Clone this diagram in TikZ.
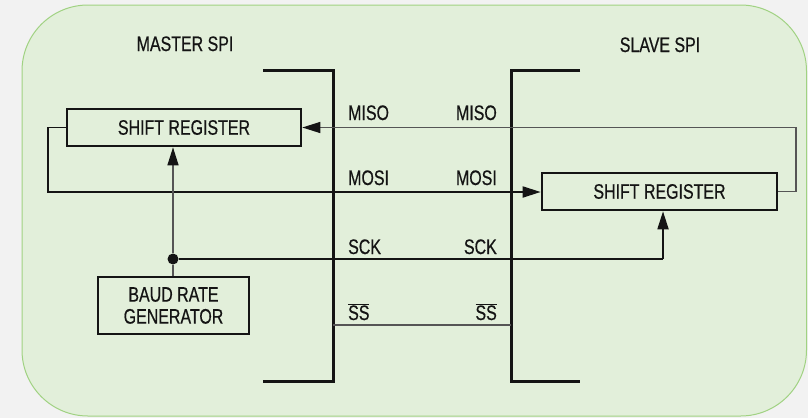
\documentclass[tikz,border=0pt]{standalone}
\usepackage{fontspec}
\setmainfont{Liberation Sans}[FakeStretch=0.76,FakeBold=0.5]
\usetikzlibrary{arrows.meta}
\definecolor{outbg}{RGB}{242,242,242}
\definecolor{panel}{RGB}{226,239,218}
\definecolor{panelborder}{RGB}{160,210,130}
\definecolor{ink}{RGB}{20,20,20}
\definecolor{wire}{RGB}{85,85,85}
\tikzset{
  blk/.style={draw=ink, line width=2.6pt, minimum width=#1, inner sep=0pt, align=center, text=ink},
  lbl/.style={text=ink, inner sep=0pt},
  bracket/.style={draw=ink, line width=3pt},
  thinwire/.style={draw=wire, line width=1.3pt},
  darkwire/.style={draw=ink, line width=1.8pt},
  tip/.style={-{Triangle[length=18pt,width=11pt,color=ink]}},
}
\begin{document}
\begin{tikzpicture}[x=1pt,y=-1pt,font=\fontsize{21}{22}\selectfont]
\useasboundingbox (0,0) rectangle (808,418);
\fill[outbg] (0,0) rectangle (808,418);
\draw[fill=panel, draw=panelborder, line width=1pt, rounded corners=66pt] (22,5) rectangle (806.5,416);

% titles
\node[lbl, anchor=base] (mtitle) at (185,51) {MASTER SPI};
\node[lbl, anchor=base] (stitle) at (660,52) {SLAVE SPI};

% blocks
\node[blk=234pt, minimum height=37pt] (msr) at (184,127.5) {SHIFT REGISTER};
\node[blk=235pt, minimum height=37pt] (ssr) at (659.5,191.5) {SHIFT REGISTER};
\node[blk=151pt, minimum height=57pt] (baud) at (173.5,305.5) {BAUD RATE\\GENERATOR};

% brackets
\coordinate (mtop) at (263,70);
\coordinate (mcorner) at (333,381);
\coordinate (mbot) at (263,381);
\coordinate (stop) at (580,70);
\coordinate (scorner) at (511,381);
\coordinate (sbot) at (580,381);
\draw[bracket] (mtop) -| (mcorner) -- (mbot);
\draw[bracket] (stop) -| (scorner) -- (sbot);

% MISO
\coordinate (misoR) at (796,127.5);
\draw[thinwire, tip] (ssr.east) -| (misoR) -- (msr.east);

% MOSI
\coordinate (mosiL) at (48,192);
\draw[darkwire, tip] (msr.west) -| (mosiL) -- (mosiL -| ssr.west);

% SCK
\node[circle, fill=ink, inner sep=0pt, minimum size=11pt] (dot) at (173,259) {};
\coordinate (sckR) at (663,259);
\draw[darkwire] (dot) -- (sckR);
\draw[darkwire, tip] (sckR) -- (sckR |- ssr.south);
\draw[thinwire, tip] (dot) -- (dot |- msr.south);
\draw[thinwire] (dot) -- (dot |- baud.north);

% SS
\coordinate (ssL) at (333,325);
\coordinate (ssR) at (511,325);
\draw[thinwire] (ssL) -- (ssR);

% signal labels
\node[lbl, anchor=base west] (misoM) at (348,120) {MISO};
\node[lbl, anchor=base east] (misoS) at (497,120) {MISO};
\node[lbl, anchor=base west] (mosiM) at (348,185) {MOSI};
\node[lbl, anchor=base east] (mosiS) at (497,185) {MOSI};
\node[lbl, anchor=base west] (sckM) at (348,254) {SCK};
\node[lbl, anchor=base east] (sckS) at (497,254) {SCK};
\node[lbl, anchor=base west] (ssM) at (348,320) {$\overline{\hbox{SS}}$};
\node[lbl, anchor=base east] (ssS) at (497,320) {$\overline{\hbox{SS}}$};
\end{tikzpicture}
\end{document}
